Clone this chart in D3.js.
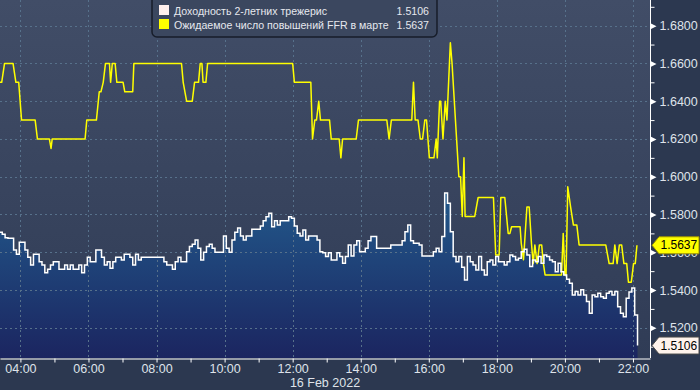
<!DOCTYPE html>
<html>
<head>
<meta charset="utf-8">
<script src="https://cdn.jsdelivr.net/npm/d3@7"></script>
<style>
  body { margin: 0; background: #2c3850; }
  svg { display: block; font-family: "Liberation Sans", Arial, sans-serif; }
</style>
</head>
<body>
<div id="chart"></div>
<script>
// 2-year treasury yield, one value every 5 minutes from 03:23
const yieldStart = "03:23";
const yieldStepMin = 5;
const yieldValues = [
  1.5706, 1.5695, 1.5677, 1.5674, 1.5674, 1.5612, 1.5589, 1.5653, 1.5653, 1.5612,
  1.5574, 1.5533, 1.5589, 1.5589, 1.5550, 1.5533, 1.5492, 1.5510, 1.5533, 1.5550,
  1.5550, 1.5510, 1.5510, 1.5533, 1.5510, 1.5533, 1.5510, 1.5510, 1.5533, 1.5492,
  1.5533, 1.5574, 1.5550, 1.5550, 1.5612, 1.5612, 1.5574, 1.5533, 1.5550, 1.5515,
  1.5550, 1.5574, 1.5574, 1.5559, 1.5589, 1.5589, 1.5574, 1.5533, 1.5589, 1.5559,
  1.5574, 1.5574, 1.5574, 1.5574, 1.5574, 1.5574, 1.5574, 1.5574, 1.5550, 1.5533,
  1.5533, 1.5510, 1.5550, 1.5574, 1.5550, 1.5550, 1.5603, 1.5630, 1.5642, 1.5665,
  1.5621, 1.5559, 1.5600, 1.5630, 1.5642, 1.5621, 1.5600, 1.5600, 1.5600, 1.5686,
  1.5621, 1.5600, 1.5665, 1.5706, 1.5729, 1.5686, 1.5665, 1.5686, 1.5686, 1.5722,
  1.5722, 1.5722, 1.5739, 1.5767, 1.5788, 1.5806, 1.5735, 1.5767, 1.5744, 1.5767,
  1.5767, 1.5767, 1.5788, 1.5780, 1.5739, 1.5701, 1.5686, 1.5718, 1.5665, 1.5686,
  1.5686, 1.5686, 1.5665, 1.5603, 1.5598, 1.5577, 1.5598, 1.5559, 1.5559, 1.5598,
  1.5577, 1.5542, 1.5577, 1.5639, 1.5580, 1.5639, 1.5661, 1.5603, 1.5603, 1.5621,
  1.5661, 1.5683, 1.5683, 1.5621, 1.5621, 1.5621, 1.5621, 1.5621, 1.5639, 1.5639,
  1.5639, 1.5639, 1.5661, 1.5709, 1.5744, 1.5661, 1.5648, 1.5648, 1.5639, 1.5580,
  1.5580, 1.5580, 1.5580, 1.5603, 1.5621, 1.5603, 1.5683, 1.5914, 1.5859, 1.5709,
  1.5577, 1.5550, 1.5577, 1.5521, 1.5453, 1.5577, 1.5550, 1.5533, 1.5506, 1.5577,
  1.5506, 1.5480, 1.5550, 1.5559, 1.5533, 1.5577, 1.5550, 1.5550, 1.5533, 1.5550,
  1.5586, 1.5577, 1.5559, 1.5568, 1.5603, 1.5616, 1.5586, 1.5524, 1.5559, 1.5550,
  1.5577, 1.5542, 1.5586, 1.5577, 1.5559, 1.5550, 1.5497, 1.5542, 1.5497, 1.5480,
  1.5457, 1.5436, 1.5374, 1.5392, 1.5374, 1.5401, 1.5374, 1.5339, 1.5277, 1.5374,
  1.5365, 1.5383, 1.5365, 1.5357, 1.5383, 1.5392, 1.5374, 1.5392, 1.5312, 1.5277,
  1.5259, 1.5357, 1.5390, 1.5411, 1.5268, 1.5106
];

// expected FFR hikes in March (irregular ticks)
const ffrTimes = [
  "03:20", "03:27", "03:32", "03:47", "03:52", "03:57", "04:02", "04:26", "04:30", "04:51",
  "04:54", "04:56", "05:54", "05:57", "06:14", "06:19", "06:22", "06:26", "06:30", "06:37",
  "06:39", "06:42", "06:47", "06:50", "07:01", "07:04", "07:18", "07:20", "08:44", "08:47",
  "08:53", "09:03", "09:07", "09:14", "09:17", "09:20", "09:22", "09:27", "09:30", "12:00",
  "12:03", "12:32", "12:35", "12:39", "12:42", "12:46", "12:49", "13:05", "13:08", "13:22",
  "13:25", "13:28", "13:52", "13:56", "14:46", "14:50", "14:54", "15:30", "15:33", "15:36",
  "15:41", "15:45", "15:49", "15:53", "15:56", "16:01", "16:09", "16:13", "16:15", "16:19",
  "16:21", "16:25", "16:29", "16:32", "16:38", "16:41", "16:49", "16:53", "16:56", "16:59",
  "17:02", "17:04", "17:21", "17:27", "17:54", "17:58", "18:04", "18:07", "18:14", "18:20",
  "18:23", "18:26", "18:41", "18:43", "18:47", "18:53", "18:57", "19:01", "19:04", "19:07",
  "19:11", "19:15", "19:19", "19:22", "19:25", "19:54", "19:57", "20:00", "20:02", "20:05",
  "20:10", "20:15", "20:21", "20:25", "21:12", "21:18", "21:25", "21:28", "21:32", "21:36",
  "21:40", "21:44", "21:49", "21:52", "21:57", "22:01", "22:04", "22:07"
];
const ffrValues = [
  1.65, 1.65, 1.66, 1.66, 1.65, 1.65, 1.63, 1.63, 1.62, 1.62,
  1.615, 1.62, 1.62, 1.63, 1.63, 1.645, 1.645, 1.65, 1.66, 1.66,
  1.65, 1.66, 1.66, 1.65, 1.65, 1.645, 1.645, 1.66, 1.66, 1.65,
  1.64, 1.64, 1.65, 1.65, 1.66, 1.66, 1.65, 1.65, 1.66, 1.66,
  1.65, 1.65, 1.62, 1.63, 1.63, 1.64, 1.63, 1.63, 1.62, 1.62,
  1.61, 1.62, 1.62, 1.63, 1.63, 1.62, 1.63, 1.63, 1.65, 1.63,
  1.63, 1.62, 1.62, 1.63, 1.63, 1.61, 1.61, 1.62, 1.61, 1.64,
  1.64, 1.62, 1.64, 1.63, 1.671, 1.66, 1.62, 1.60, 1.60, 1.579,
  1.61, 1.579, 1.579, 1.589, 1.589, 1.5586, 1.5586, 1.589, 1.589, 1.57,
  1.57, 1.5735, 1.5735, 1.5648, 1.556, 1.584, 1.584, 1.5648, 1.554, 1.5639,
  1.554, 1.5639, 1.5639, 1.554, 1.548, 1.548, 1.57, 1.548, 1.548, 1.5947,
  1.584, 1.5744, 1.5744, 1.5639, 1.5639, 1.554, 1.554, 1.5639, 1.554, 1.5639,
  1.5639, 1.554, 1.554, 1.5441, 1.5441, 1.554, 1.554, 1.5637
];

const seriesNames = ["Доходность 2-летних трежерис", "Ожидаемое число повышений FFR в марте"];
const lastValues = ["1.5106", "1.5637"];
const yTicks = [1.52, 1.54, 1.56, 1.58, 1.60, 1.62, 1.64, 1.66, 1.68];
const yMinorTicks = [1.51, 1.53, 1.55, 1.57, 1.59, 1.61, 1.63, 1.65, 1.67, 1.69];
const dateLabel = "16 Feb 2022";

const width = 700, height = 390;
const plotW = 650, plotH = 358;

const parse = d3.timeParse("%Y-%m-%d %H:%M");
const day = "2022-02-16 ";
const t0 = parse(day + yieldStart);
const yieldData = yieldValues.map((v, i) => ({ t: d3.timeMinute.offset(t0, i * yieldStepMin), v }));
const ffrData = ffrTimes.map((s, i) => ({ t: parse(day + s), v: ffrValues[i] }));

const x = d3.scaleTime()
  .domain([parse(day + "03:24"), parse(day + "22:30")])
  .range([0, plotW]);
const y = d3.scaleLinear()
  .domain([1.5040, 1.6936])
  .range([plotH, 0]);

const svg = d3.select("#chart").append("svg")
  .attr("width", width)
  .attr("height", height);

const defs = svg.append("defs");
const bgGrad = defs.append("linearGradient").attr("id", "bg")
  .attr("x1", 0).attr("y1", 0).attr("x2", 0).attr("y2", 1);
bgGrad.append("stop").attr("offset", "0%").attr("stop-color", "#414d67");
bgGrad.append("stop").attr("offset", "100%").attr("stop-color", "#303c56");

const areaGrad = defs.append("linearGradient").attr("id", "areaGrad")
  .attr("gradientUnits", "userSpaceOnUse")
  .attr("x1", 0).attr("y1", 190).attr("x2", 0).attr("y2", plotH);
areaGrad.append("stop").attr("offset", "0%").attr("stop-color", "#225a8c");
areaGrad.append("stop").attr("offset", "100%").attr("stop-color", "#1b2560");

defs.append("clipPath").attr("id", "clip")
  .append("rect").attr("width", plotW).attr("height", plotH);

svg.append("rect").attr("width", width).attr("height", height).attr("fill", "#2c3850");
svg.append("rect").attr("width", plotW).attr("height", plotH).attr("fill", "url(#bg)");

const plot = svg.append("g").attr("clip-path", "url(#clip)");

// area under the yield line
plot.append("path")
  .datum(yieldData)
  .attr("fill", "url(#areaGrad)")
  .attr("d", d3.area().curve(d3.curveStepAfter)
    .x(d => x(d.t)).y0(plotH).y1(d => y(d.v)));

// grid
const grid = plot.append("g")
  .attr("stroke", "#57718b")
  .attr("stroke-dasharray", "2,3")
  .attr("stroke-width", 1);
grid.selectAll("line.h").data(yTicks).join("line")
  .attr("class", "h")
  .attr("x1", 0).attr("x2", plotW)
  .attr("y1", d => Math.round(y(d)) + 0.5).attr("y2", d => Math.round(y(d)) + 0.5);
grid.selectAll("line.v").data(x.ticks(d3.timeHour.every(2))).join("line")
  .attr("class", "v")
  .attr("y1", 0).attr("y2", plotH)
  .attr("x1", d => Math.round(x(d)) + 0.5).attr("x2", d => Math.round(x(d)) + 0.5);

// lines
plot.append("path")
  .datum(ffrData)
  .attr("fill", "none")
  .attr("stroke", "#ffff00")
  .attr("stroke-width", 1.5)
  .attr("stroke-linejoin", "round")
  .attr("d", d3.line().x(d => x(d.t)).y(d => y(d.v)));

plot.append("path")
  .datum(yieldData)
  .attr("fill", "none")
  .attr("stroke", "#ffffff")
  .attr("stroke-width", 1.5)
  .attr("d", d3.line().curve(d3.curveStepAfter).x(d => x(d.t)).y(d => y(d.v)));

// right axis
const yAxis = svg.append("g")
  .attr("transform", `translate(${plotW + 0.5},0)`)
  .call(d3.axisRight(y).tickValues(yTicks).tickSize(0).tickPadding(9)
    .tickFormat(d3.format(".4f")));
yAxis.select(".domain").attr("stroke", "#ffffff").attr("d", `M0,0V${plotH}`);
yAxis.selectAll("text").attr("fill", "#dfe3ea").style("font-size", "12.5px");
yAxis.selectAll(".tick").append("path")
  .attr("d", "M0,-3L6,0L0,3Z")
  .attr("fill", "#ffffff");

svg.append("g")
  .attr("transform", `translate(${plotW + 0.5},0)`)
  .call(d3.axisRight(y).tickValues(yMinorTicks).tickSize(4).tickFormat(""))
  .call(g => g.select(".domain").remove())
  .selectAll("line").attr("stroke", "#ffffff");

// bottom axis
const xAxis = svg.append("g")
  .attr("transform", `translate(0,${plotH + 0.5})`)
  .call(d3.axisBottom(x).ticks(d3.timeHour.every(1)).tickSize(4).tickSizeOuter(0)
    .tickFormat(d => d.getHours() % 2 === 0 ? d3.timeFormat("%H:%M")(d) : ""));
xAxis.select(".domain").attr("stroke", "#ffffff");
xAxis.selectAll("line").attr("stroke", "#ffffff");
xAxis.selectAll("text").attr("fill", "#dfe3ea").style("font-size", "12.5px").attr("dy", "0.6em");

svg.append("text")
  .attr("x", plotW / 2).attr("y", 387)
  .attr("text-anchor", "middle")
  .attr("fill", "#dfe3ea")
  .style("font-size", "12.5px")
  .text(dateLabel);

// last value tags (the yellow one covers the 1.5600 label, as in the source)
const tags = [
  { v: +lastValues[1], label: lastValues[1], fill: "#ffff00", stroke: "#9a9000" },
  { v: +lastValues[0], label: lastValues[0], fill: "#fff3ec", stroke: "#4a4a4a" }
];
const tag = svg.selectAll("g.tag").data(tags).join("g")
  .attr("class", "tag")
  .attr("transform", d => `translate(${plotW + 2},${y(d.v)})`);
tag.append("path")
  .attr("d", "M0,0L7,-8.5L47,-8.5L47,8.5L7,8.5Z")
  .attr("fill", d => d.fill)
  .attr("stroke", d => d.stroke)
  .attr("stroke-width", 1);
tag.append("text")
  .attr("x", 8.5).attr("y", 0).attr("dy", "0.35em")
  .attr("fill", "#000000")
  .style("font-size", "12px")
  .text(d => d.label);

// legend
const legend = svg.append("g");
legend.append("rect")
  .attr("x", 152).attr("y", -6).attr("width", 285).attr("height", 43)
  .attr("rx", 5)
  .attr("fill", "#3b475f")
  .attr("stroke", "#171d2a")
  .attr("stroke-width", 1.5);
const legendColors = ["#fff0ee", "#ffff00"];
const item = legend.selectAll("g.item").data(seriesNames).join("g")
  .attr("class", "item")
  .attr("transform", (d, i) => `translate(0,${11 + i * 14})`);
item.append("rect")
  .attr("x", 159).attr("y", -6).attr("width", 10).attr("height", 10)
  .attr("fill", (d, i) => legendColors[i]);
item.append("text")
  .attr("x", 174).attr("y", 4)
  .attr("fill", "#e6e8ee")
  .style("font-size", "10.6px")
  .text(d => d);
item.append("text")
  .attr("x", 429).attr("y", 4)
  .attr("text-anchor", "end")
  .attr("fill", "#e6e8ee")
  .style("font-size", "10.6px")
  .text((d, i) => lastValues[i]);
</script>
</body>
</html>
